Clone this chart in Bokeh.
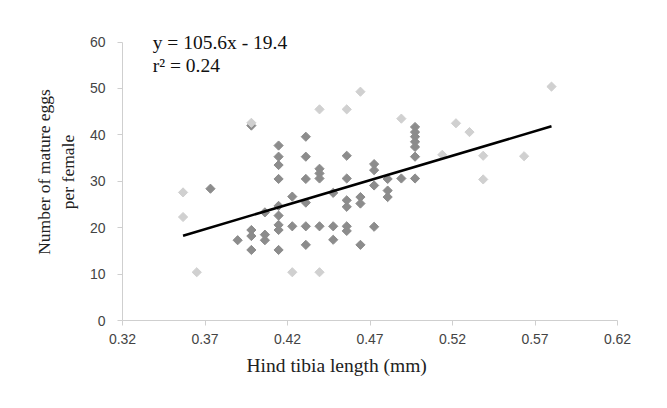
import numpy as np
from bokeh.plotting import figure
from bokeh.models import Label, FixedTicker, Title
from bokeh.embed import file_html
from bokeh.resources import INLINE

# dark-grey points (hind tibia length mm, mature eggs)
dark_x = [0.3733, 0.3898,
          0.3981, 0.3981, 0.3981, 0.3981,
          0.4063, 0.4063, 0.4063,
          0.4146, 0.4146, 0.4146, 0.4146, 0.4146, 0.4146, 0.4146, 0.4146, 0.4146,
          0.4229, 0.4229,
          0.4311, 0.4311, 0.4311, 0.4311, 0.4311, 0.4311,
          0.4394, 0.4394, 0.4394, 0.4394,
          0.4477, 0.4477, 0.4477,
          0.4559, 0.4559, 0.4559, 0.4559, 0.4559, 0.4559,
          0.4642, 0.4642, 0.4642,
          0.4725, 0.4725, 0.4725, 0.4725,
          0.4807, 0.4807, 0.4807,
          0.4890,
          0.4973, 0.4973, 0.4973, 0.4973, 0.4973, 0.4973, 0.4973]
dark_y = [28.4, 17.3,
          42.0, 19.5, 18.2, 15.2,
          23.3, 18.5, 17.3,
          37.7, 35.3, 33.5, 30.5, 24.7, 22.6, 20.6, 19.5, 15.2,
          26.7, 20.3,
          39.6, 35.3, 30.5, 25.4, 20.3, 16.3,
          32.7, 31.7, 30.6, 20.3,
          27.5, 20.3, 17.4,
          35.5, 30.6, 25.9, 24.5, 20.3, 19.3,
          26.6, 25.2, 16.3,
          33.7, 32.4, 29.1, 20.2,
          30.5, 28.0, 26.6,
          30.6,
          41.7, 40.6, 39.6, 38.5, 37.4, 35.3, 30.6]

# light-grey points
light_x = [0.3567, 0.3567, 0.3650, 0.3981, 0.4229, 0.4394, 0.4394, 0.4559,
           0.4642, 0.4890, 0.5138, 0.5221, 0.5303, 0.5386, 0.5386, 0.5634, 0.5800]
light_y = [27.6, 22.3, 10.4, 42.6, 10.4, 45.5, 10.4, 45.5,
           49.3, 43.5, 35.7, 42.5, 40.6, 35.5, 30.4, 35.4, 50.4]

slope = 105.6
intercept = -19.4
x_ticks = [0.32, 0.37, 0.42, 0.47, 0.52, 0.57, 0.62]
y_ticks = [0, 10, 20, 30, 40, 50, 60]

W, H = 650, 390
p = figure(width=W, height=H, x_range=(0.32, 0.62), y_range=(0, 64),
           output_backend="svg", toolbar_location=None,
           min_border_left=122, min_border_right=33,
           min_border_top=23, min_border_bottom=70)
p.outline_line_color = None
p.xgrid.visible = False
p.ygrid.visible = False
p.background_fill_color = "white"
p.border_fill_color = "white"

for ax in (p.xaxis[0], p.yaxis[0]):
    ax.axis_line_color = "#cfcfcf"
    ax.major_tick_line_color = "#cfcfcf"
    ax.minor_tick_line_color = None
    ax.major_tick_out = 5
    ax.major_tick_in = 0
    ax.major_label_text_font = "Liberation Sans Narrow, Liberation Sans"
    ax.major_label_text_font_size = "14px"
    ax.major_label_text_color = "#444444"
    ax.axis_label_text_font = "Liberation Serif"
    ax.axis_label_text_font_style = "normal"
    ax.axis_label_text_color = "#222222"

p.yaxis.bounds = (0, 60)
p.yaxis.axis_label_text_font_size = "17.5px"
p.xaxis.ticker = FixedTicker(ticks=x_ticks)
p.yaxis.ticker = FixedTicker(ticks=y_ticks)
p.xaxis.major_label_overrides = {t: f"{t:.2f}" for t in x_ticks}
p.yaxis.axis_label = "Number of mature eggs\nper female"
p.xaxis.major_label_standoff = 8
p.yaxis.major_label_standoff = 12
p.yaxis.axis_label_standoff = 9

xtitle = Title(text="Hind tibia length (mm)", align="left", offset=124,
               text_font="Liberation Serif", text_font_size="19.5px",
               text_font_style="normal", text_color="#222222", standoff=12)
p.add_layout(xtitle, "below")

p.scatter(dark_x, dark_y, marker="square", angle=np.pi / 4, size=6.5,
          fill_color="#8c8c8c", line_color="#8c8c8c")
p.scatter(light_x, light_y, marker="square", angle=np.pi / 4, size=6.5,
          fill_color="#d0d0d0", line_color="#d0d0d0")

all_x = dark_x + light_x
x0, x1 = min(all_x), max(all_x)
p.line([x0, x1], [slope * x0 + intercept, slope * x1 + intercept],
       line_color="black", line_width=2.5)

p.add_layout(Label(x=0.3383, y=59.8, text="y = 105.6x - 19.4",
                   text_font="Liberation Serif", text_font_size="19.5px",
                   text_color="#111111", text_baseline="middle"))
p.add_layout(Label(x=0.3383, y=55.0, text="r² = 0.24",
                   text_font="Liberation Serif", text_font_size="19.5px",
                   text_color="#111111", text_baseline="middle"))

open("out.html", "w").write(file_html(p, INLINE))
